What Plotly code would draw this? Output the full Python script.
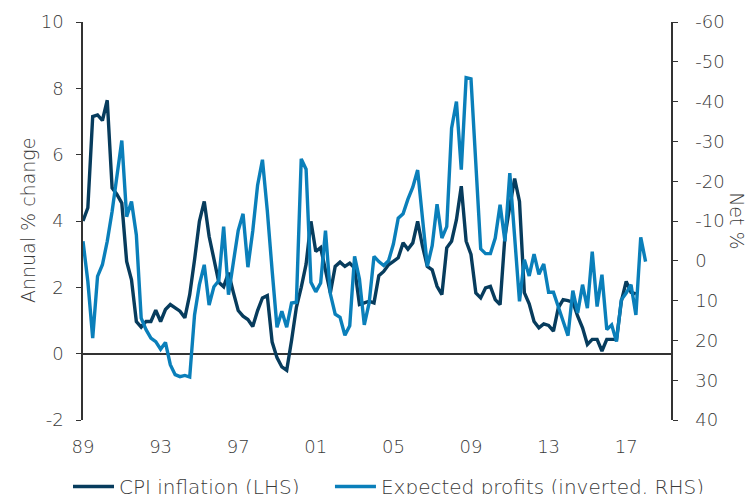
import plotly.graph_objects as go

# ---------------- data (quarterly, starting 1989 Q1) ----------------
start_year = 1989

cpi_inflation = [
    4.0, 4.4, 7.15, 7.2, 7.03, 7.64, 5.0, 4.8, 4.54, 2.78,
    2.23, 0.97, 0.8, 0.97, 0.97, 1.31, 0.97, 1.33, 1.48, 1.38,
    1.28, 1.08, 1.78, 2.83, 3.99, 4.59, 3.54, 2.85, 2.15, 2.02,
    2.44, 1.85, 1.3, 1.13, 1.03, 0.82, 1.3, 1.68, 1.75, 0.35,
    -0.12, -0.4, -0.5, 0.4, 1.4, 2.0, 2.7, 3.99, 3.08, 3.2,
    2.45, 1.83, 2.63, 2.76, 2.63, 2.73, 2.58, 1.48, 1.53, 1.58,
    1.53, 2.35, 2.48, 2.68, 2.78, 2.89, 3.34, 3.15, 3.34, 3.99,
    3.24, 2.63, 2.53, 2.03, 1.78, 3.19, 3.39, 4.04, 5.05, 3.39,
    2.99, 1.83, 1.68, 1.98, 2.03, 1.63, 1.48, 3.54, 4.44, 5.28,
    4.59, 1.84, 1.5, 0.97, 0.78, 0.9, 0.85, 0.68, 1.38, 1.63,
    1.6, 1.55, 1.13, 0.78, 0.28, 0.43, 0.43, 0.08, 0.43, 0.43,
    0.43, 1.58, 2.18, 1.85, 1.8,
]

expected_profits = [
    -4.9, 5.2, 19.4, 3.9, 1.0, -4.9, -12.4, -21.6, -30.2, -11.1,
    -14.9, -6.5, 14.4, 17.3, 19.4, 20.3, 22.2, 20.5, 26.1, 28.6,
    29.1, 28.8, 29.2, 13.6, 6.0, 1.0, 11.1, 6.5, 5.0, -8.6,
    8.5, 0.4, -7.6, -11.8, 1.6, -7.5, -19.0, -25.4, -12.6, 2.5,
    16.7, 12.7, 16.7, 10.6, 10.4, -25.6, -23.0, 5.4, 7.8, 5.6,
    -7.6, 8.3, 13.4, 14.2, 18.7, 16.3, -1.1, 4.6, 16.1, 10.6,
    -1.1, 0.2, 1.2, 0.0, -4.2, -10.7, -11.8, -15.5, -18.5, -22.8,
    -10.0, 1.4, -3.8, -14.2, -5.7, -8.6, -33.3, -40.0, -22.9, -46.0,
    -45.7, -24.8, -3.0, -1.8, -1.8, -5.7, -14.1, -4.9, -22.0, -6.0,
    10.2, -0.3, 3.8, -1.7, 3.4, 0.8, 7.9, 7.9, 11.9, 15.2,
    18.8, 7.5, 13.1, 6.0, 11.9, -2.3, 11.5, 3.5, 17.3, 16.1,
    20.3, 9.8, 8.1, 6.0, 13.6, -5.9, 0.2,
]

tick_years = [1989, 1993, 1997, 2001, 2005, 2009, 2013, 2017]
tick_text = ["89", "93", "97", "01", "05", "09", "13", "17"]
left_ticks = [-2, 0, 2, 4, 6, 8, 10]
right_ticks = [40, 30, 20, 10, 0, -10, -20, -30, -40, -50, -60]

x_cpi = [start_year + i / 4 for i in range(len(cpi_inflation))]
x_prof = [start_year + i / 4 for i in range(len(expected_profits))]

DARK = "#073c5d"
BLUE = "#0a7fba"
AXIS = "#333333"
TEXT = "#3a3a3a"
FONT = "'DejaVu Sans', sans-serif"
x_range = [1989, 2019.31]

fig = go.Figure()
fig.add_trace(go.Scatter(
    x=x_cpi, y=cpi_inflation, name="CPI inflation (LHS)", mode="lines",
    line=dict(color=DARK, width=3.4), xaxis="x", yaxis="y", legend="legend",
))
fig.add_trace(go.Scatter(
    x=x_prof, y=expected_profits, name="Expected profits (inverted, RHS)",
    mode="lines", line=dict(color=BLUE, width=3.4), xaxis="x", yaxis="y2",
    legend="legend2",
))

legend_common = dict(
    orientation="h", xanchor="left", y=-0.118, yanchor="top", itemwidth=41,
    font=dict(size=20, color=TEXT), bgcolor="rgba(0,0,0,0)",
)

fig.update_layout(
    width=751, height=494, autosize=False,
    margin=dict(l=83, r=80, t=22, b=74, autoexpand=False),
    paper_bgcolor="white", plot_bgcolor="white",
    font=dict(family=FONT, size=18, color=TEXT, weight=300),
    showlegend=True,
    legend=dict(x=-0.0255, **legend_common),
    legend2=dict(x=0.42, **legend_common),
    xaxis=dict(
        range=x_range, tickvals=tick_years, ticktext=tick_text,
        showline=False, showgrid=False, zeroline=False, automargin=False,
        ticks="outside", ticklen=10, tickcolor="rgba(0,0,0,0)",
    ),
    xaxis2=dict(
        overlaying="x", anchor="free", position=66 / 398, range=x_range,
        tickvals=tick_years, showticklabels=False, ticks="outside",
        ticklen=6, tickcolor=AXIS, tickwidth=1.2, automargin=False,
        showline=False, showgrid=False, zeroline=False,
    ),
    yaxis=dict(
        range=[-2, 10], tickvals=left_ticks, ticktext=[str(v) for v in left_ticks],
        showline=True, linecolor=AXIS, linewidth=1.5, automargin=False,
        ticks="outside", ticklen=5, tickcolor=AXIS, tickwidth=1.2,
        ticklabelstandoff=9,
        showgrid=False, zeroline=True, zerolinecolor=AXIS, zerolinewidth=1.5,
    ),
    yaxis2=dict(
        overlaying="y", side="right", anchor="x", range=[40, -60],
        tickvals=right_ticks, ticktext=[str(v) for v in right_ticks],
        showline=True, linecolor=AXIS, linewidth=1.5, automargin=False,
        ticks="outside", ticklen=5, tickcolor=AXIS, tickwidth=1.2,
        ticklabelstandoff=14,
        showgrid=False, zeroline=False,
    ),
    annotations=[
        dict(
            text="Annual % change", xref="paper", yref="paper", x=-0.0935, y=0.5,
            xanchor="center", yanchor="middle",
            showarrow=False, textangle=-90, font=dict(size=19, color=TEXT),
        ),
        dict(
            text="Net %", xref="paper", yref="paper", x=1.112, y=0.5,
            xanchor="center", yanchor="middle",
            showarrow=False, textangle=90, font=dict(size=19, color=TEXT),
        ),
    ],
)

fig.write_html("out.html")
